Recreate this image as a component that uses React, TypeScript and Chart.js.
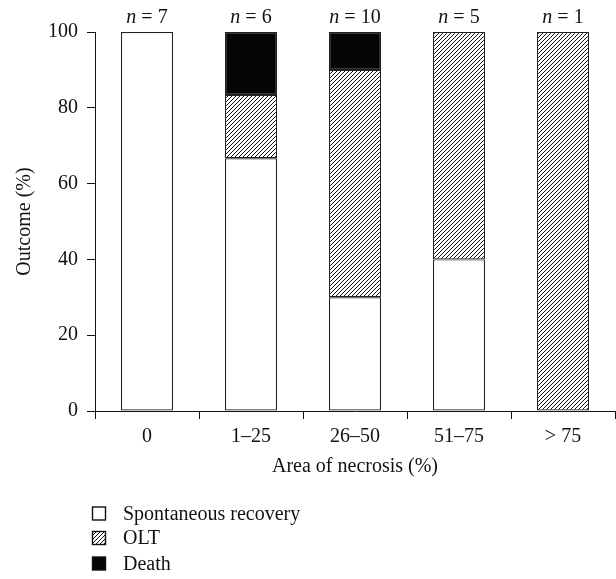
import React, { useEffect, useRef } from "react";
import { Chart, registerables } from "chart.js";

Chart.register(...registerables);

const categories = ["0", "1–25", "26–50", "51–75", "> 75"];
const counts = [7, 6, 10, 5, 1];
const spontaneous = [100, 66.7, 30, 40, null];
const olt = [null, 16.7, 60, 60, 100];
const death = [null, 16.6, 10, null, null];
const yTicks = [0, 20, 40, 60, 80, 100];
const legendLabels = ["Spontaneous recovery", "OLT", "Death"];

const FONT = "'Liberation Serif', 'DejaVu Serif', serif";
const INK = "#111111";

function makeHatch(): CanvasPattern | string {
  const s = 4;
  const c = document.createElement("canvas");
  c.width = s;
  c.height = s;
  const g = c.getContext("2d");
  if (!g) return "#888";
  g.fillStyle = "#ffffff";
  g.fillRect(0, 0, s, s);
  g.strokeStyle = "#111111";
  g.lineWidth = 1;
  g.beginPath();
  g.moveTo(-1, s + 1);
  g.lineTo(s + 1, -1);
  g.moveTo(-1, 1);
  g.lineTo(1, -1);
  g.moveTo(s - 1, s + 1);
  g.lineTo(s + 1, s - 1);
  g.stroke();
  const p = g.createPattern(c, "repeat");
  return p || "#888";
}

export default function App() {
  const ref = useRef<HTMLCanvasElement | null>(null);

  useEffect(() => {
    document.body.style.margin = "0";
    const canvas = ref.current;
    if (!canvas) return;
    const hatch = makeHatch();
    const fills: any[] = ["#ffffff", hatch, "#050505"];

    const overlay = {
      id: "overlay",
      afterDraw(chart: any) {
        const ctx = chart.ctx;
        const xs = chart.scales.x;
        const ys = chart.scales.y;
        ctx.save();
        ctx.fillStyle = INK;
        ctx.textBaseline = "alphabetic";
        // n = labels
        const baseY = ys.getPixelForValue(100) - 9;
        counts.forEach((n, i) => {
          const cx = xs.getPixelForValue(i);
          const italic = `italic 20px ${FONT}`;
          const normal = `20px ${FONT}`;
          ctx.font = italic;
          const w1 = ctx.measureText("n").width;
          const rest = " = " + n;
          ctx.font = normal;
          const w2 = ctx.measureText(rest).width;
          const start = cx - (w1 + w2) / 2;
          ctx.textAlign = "left";
          ctx.font = italic;
          ctx.fillText("n", start, baseY);
          ctx.font = normal;
          ctx.fillText(rest, start + w1, baseY);
        });
        // legend
        const rows = [513.5, 538, 563.5];
        ctx.textBaseline = "middle";
        ctx.font = `20px ${FONT}`;
        legendLabels.forEach((lab, i) => {
          const y = rows[i];
          const x0 = 92.5;
          const sz = 13;
          ctx.fillStyle = fills[i];
          ctx.fillRect(x0, y - sz / 2, sz, sz);
          ctx.strokeStyle = INK;
          ctx.lineWidth = 1.4;
          ctx.strokeRect(x0, y - sz / 2, sz, sz);
          ctx.fillStyle = INK;
          ctx.textAlign = "left";
          ctx.fillText(lab, 123, y + 1);
        });
        ctx.restore();
      },
    };

    const chart = new Chart(canvas, {
      type: "bar",
      data: {
        labels: categories,
        datasets: [
          { label: legendLabels[0], data: spontaneous as any, backgroundColor: fills[0] },
          { label: legendLabels[1], data: olt as any, backgroundColor: fills[1] },
          { label: legendLabels[2], data: death as any, backgroundColor: fills[2] },
        ].map((d) => ({
          ...d,
          borderColor: "#222222",
          borderWidth: 1.2,
          borderSkipped: false as any,
          barPercentage: 0.5,
          categoryPercentage: 1.0,
        })),
      },
      options: {
        responsive: false,
        animation: false,
        devicePixelRatio: 1,
        layout: { padding: { left: 0, top: 32, right: 1, bottom: 98 } },
        plugins: { legend: { display: false }, tooltip: { enabled: false } },
        font: { family: FONT, size: 20 } as any,
        scales: {
          x: {
            stacked: true,
            afterFit: (s: any) => {
              s.height = 70;
            },
            grid: {
              offset: true,
              drawOnChartArea: false,
              drawTicks: true,
              tickLength: 8,
              color: INK,
              lineWidth: 1,
            },
            border: { display: true, color: INK, width: 1 },
            ticks: {
              color: INK,
              padding: 6,
              font: { family: FONT, size: 20 },
              maxRotation: 0,
            },
            title: {
              display: true,
              text: "Area of necrosis (%)",
              color: INK,
              font: { family: FONT, size: 20 },
              padding: { top: 0, bottom: 2 },
            },
          },
          y: {
            stacked: true,
            min: 0,
            max: 100,
            afterFit: (s: any) => {
              s.width = 95;
            },
            afterBuildTicks: (s: any) => {
              s.ticks = yTicks.map((v) => ({ value: v }));
            },
            grid: {
              drawOnChartArea: false,
              drawTicks: true,
              tickLength: 8,
              color: INK,
              lineWidth: 1,
            },
            border: { display: true, color: INK, width: 1 },
            ticks: {
              color: INK,
              padding: 9,
              font: { family: FONT, size: 20 },
            },
            title: {
              display: true,
              text: "Outcome (%)",
              color: INK,
              font: { family: FONT, size: 20 },
              padding: { top: 13, bottom: 0 },
            },
          },
        },
      },
      plugins: [overlay],
    });
    return () => chart.destroy();
  }, []);

  return (
    <div style={{ width: 616, height: 579 }}>
      <canvas ref={ref} width={616} height={579} style={{ display: "block" }} />
    </div>
  );
}
